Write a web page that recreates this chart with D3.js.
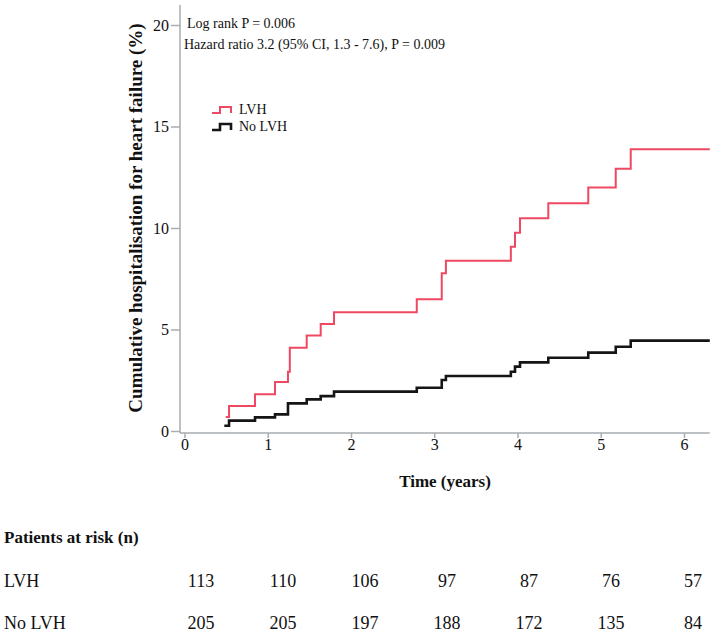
<!DOCTYPE html>
<html>
<head>
<meta charset="utf-8">
<script src="https://cdn.jsdelivr.net/npm/d3@7"></script>
<style>
  body { margin: 0; background: #fff; }
  svg { display: block; font-family: "Liberation Serif", "Times New Roman", serif; }
</style>
</head>
<body>
<svg id="chart" width="716" height="638"></svg>
<script>
// step points: [time (years), cumulative %]
var lvhSteps = [[0.495, 0.69], [0.535, 1.23], [0.847, 1.81], [1.087, 2.41], [1.243, 2.92], [1.265, 4.10],
  [1.468, 4.71], [1.636, 5.27], [1.796, 5.85], [2.79, 6.49], [3.09, 7.77], [3.14, 8.39], [3.92, 9.08],
  [3.97, 9.77], [4.03, 10.48], [4.37, 11.22], [4.85, 12.0], [5.18, 12.92], [5.36, 13.88], [6.31, 13.88]];
var noLvhSteps = [[0.478, 0.26], [0.535, 0.51], [0.847, 0.67], [1.087, 0.82], [1.243, 1.36], [1.468, 1.56],
  [1.636, 1.72], [1.796, 1.94], [2.79, 2.13], [3.09, 2.51], [3.14, 2.71], [3.92, 2.92], [3.97, 3.17],
  [4.03, 3.38], [4.37, 3.61], [4.85, 3.86], [5.18, 4.15], [5.36, 4.45], [6.31, 4.45]];

var xTicks = [0, 1, 2, 3, 4, 5, 6];
var yTicks = [0, 5, 10, 15, 20];

var riskGroups = ["LVH", "No LVH"];
var riskLvh = [113, 110, 106, 97, 87, 76, 57];
var riskNoLvh = [205, 205, 197, 188, 172, 135, 84];

var series = [
  {name: "LVH", steps: lvhSteps, color: "#ef4862", width: 2},
  {name: "No LVH", steps: noLvhSteps, color: "#151515", width: 2.6}
];

var svg = d3.select("#chart");

var x = d3.scaleLinear().domain([0, 6]).range([184.5, 684]);
var y = d3.scaleLinear().domain([0, 20]).range([431, 25]);
var axisY = 433, axisX = 180;
var gray = "#a9adb0";

// axis lines
svg.append("line")
  .attr("x1", axisX).attr("x2", axisX)
  .attr("y1", 5).attr("y2", axisY)
  .attr("stroke", gray).attr("stroke-width", 1.5);
svg.append("line")
  .attr("x1", axisX).attr("x2", x(6.31))
  .attr("y1", axisY).attr("y2", axisY)
  .attr("stroke", gray).attr("stroke-width", 1.5);

var yAxis = svg.append("g")
  .attr("transform", "translate(" + axisX + ",0)")
  .call(d3.axisLeft(y).tickValues(yTicks).tickFormat(d3.format("d")).tickSize(9).tickPadding(2));
var xAxis = svg.append("g")
  .attr("transform", "translate(0," + axisY + ")")
  .call(d3.axisBottom(x).tickValues(xTicks).tickFormat(d3.format("d")).tickSize(5).tickPadding(1));

[yAxis, xAxis].forEach(function(g){
  g.select(".domain").remove();
  g.selectAll(".tick line").attr("stroke", gray).attr("stroke-width", 1.5);
  g.selectAll(".tick text")
    .attr("fill", "#111")
    .style("font-family", "Liberation Serif")
    .style("font-size", "16px");
});

// curves
var line = d3.line()
  .x(function(d){ return x(d[0]) })
  .y(function(d){ return y(d[1]) })
  .curve(d3.curveStepAfter);

svg.selectAll("path.km").data(series).enter().append("path")
  .attr("class", "km")
  .attr("d", function(d){ return line(d.steps) })
  .attr("fill", "none")
  .attr("stroke", function(d){ return d.color })
  .attr("stroke-width", function(d){ return d.width });

// stats text
svg.append("text").attr("x", 187).attr("y", 28)
  .style("font-size", "14px").attr("fill", "#111")
  .text("Log rank P = 0.006");
svg.append("text").attr("x", 184).attr("y", 49)
  .style("font-size", "14px").attr("fill", "#111")
  .text("Hazard ratio 3.2 (95% CI, 1.3 - 7.6), P = 0.009");

// legend
var legend = svg.selectAll("g.leg").data(series).enter().append("g")
  .attr("class", "leg")
  .attr("transform", function(d, i){ return "translate(212," + (113 + i * 17) + ")" });
legend.append("path")
  .attr("d", "M0,0H8V-6H19V0")
  .attr("fill", "none")
  .attr("stroke", function(d){ return d.color })
  .attr("stroke-width", function(d){ return d.width });
legend.append("text")
  .attr("x", 27).attr("y", 1)
  .style("font-size", "14px").attr("fill", "#111")
  .text(function(d){ return d.name });

// axis titles
svg.append("text")
  .attr("transform", "rotate(-90)")
  .attr("x", -218).attr("y", 142)
  .attr("text-anchor", "middle")
  .style("font-size", "19px").style("font-weight", "bold").attr("fill", "#111")
  .text("Cumulative hospitalisation for heart failure (%)");
svg.append("text")
  .attr("x", 445).attr("y", 487)
  .attr("text-anchor", "middle")
  .style("font-size", "17px").style("font-weight", "bold").attr("fill", "#111")
  .text("Time (years)");

// patients at risk table
svg.append("text").attr("x", 4).attr("y", 543)
  .style("font-size", "17px").style("font-weight", "bold").attr("fill", "#111")
  .text("Patients at risk (n)");

var col = d3.scaleLinear().domain([0, 6]).range([201, 693]);
var rowY = d3.scalePoint().domain(riskGroups).range([587, 629]);
var riskRows = [riskLvh, riskNoLvh];

riskGroups.forEach(function(g, i){
  svg.append("text").attr("x", 4).attr("y", rowY(g))
    .style("font-size", "18px").attr("fill", "#111")
    .text(g);
  svg.selectAll("text.n" + i).data(riskRows[i]).enter().append("text")
    .attr("class", "n" + i)
    .attr("x", function(d, j){ return col(j) })
    .attr("y", rowY(g))
    .attr("text-anchor", "middle")
    .style("font-size", "18px").attr("fill", "#111")
    .text(function(d){ return d });
});
</script>
</body>
</html>
